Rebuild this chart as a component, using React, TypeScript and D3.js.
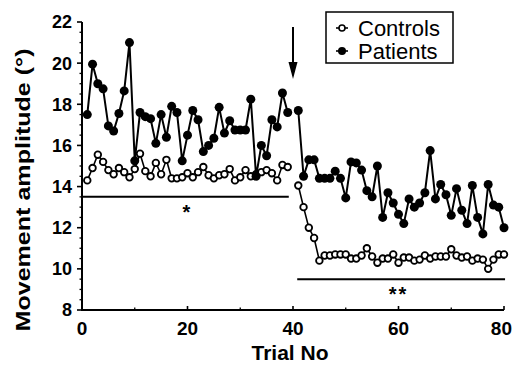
import React from "react";
import * as d3 from "d3";

const trials = [
  1, 2, 3, 4, 5, 6, 7, 8, 9, 10, 11, 12, 13, 14, 15, 16, 17, 18, 19, 20,
  21, 22, 23, 24, 25, 26, 27, 28, 29, 30, 31, 32, 33, 34, 35, 36, 37, 38, 39, 40,
  41, 42, 43, 44, 45, 46, 47, 48, 49, 50, 51, 52, 53, 54, 55, 56, 57, 58, 59, 60,
  61, 62, 63, 64, 65, 66, 67, 68, 69, 70, 71, 72, 73, 74, 75, 76, 77, 78, 79, 80,
];

const patients: (number | null)[] = [
  17.5, 19.95, 19.0, 18.75, 16.95, 16.7, 17.55, 18.65, 21.0, 15.25,
  17.6, 17.4, 17.3, 16.1, 17.5, 16.4, 17.9, 17.6, 15.25, 16.5,
  17.7, 17.25, 15.7, 16.0, 16.35, 17.85, 16.6, 17.2, 16.75, 16.75,
  16.75, 18.25, 14.5, 16.0, 15.5, 17.25, 16.9, 18.55, 17.6, null,
  17.7, 14.5, 15.3, 15.3, 14.4, 14.4, 14.4, 14.75, 14.4, 13.45,
  15.2, 15.15, 14.8, 13.8, 13.5, 15.0, 12.5, 13.7, 13.2, 12.65,
  12.2, 13.4, 13.0, 13.2, 13.7, 15.75, 13.4, 14.1, 13.6, 12.6,
  13.9, 12.85, 12.2, 14.05, 12.5, 11.7, 14.1, 13.1, 13.0, 12.0,
];

const controls: (number | null)[] = [
  14.3, 14.9, 15.55, 15.2, 14.8, 14.6, 14.9, 14.7, 14.45, 14.85,
  15.6, 14.75, 14.5, 15.15, 14.6, 15.3, 14.4, 14.4, 14.45, 14.65,
  14.45, 14.7, 14.95, 14.55, 14.4, 14.55, 14.6, 14.85, 14.3, 14.45,
  14.8, 14.5, 14.6, 14.7, 14.8, 14.65, 14.3, 15.05, 14.95, null,
  14.05, 13.0, 12.0, 11.5, 10.4, 10.65, 10.65, 10.7, 10.7, 10.7,
  10.5, 10.5, 10.65, 11.0, 10.6, 10.3, 10.5, 10.5, 10.7, 10.3,
  10.55, 10.55, 10.4, 10.45, 10.65, 10.5, 10.6, 10.6, 10.6, 10.95,
  10.65, 10.55, 10.6, 10.4, 10.5, 10.45, 10.0, 10.45, 10.7, 10.7,
];

const xTickLabels = [0, 20, 40, 60, 80];
const xMinorTicks = [10, 30, 50, 70];
const yTickLabels = [8, 10, 12, 14, 16, 18, 20, 22];
const legendItems = ["Controls", "Patients"];
const sigLines = [
  { from: 0, to: 39.2, level: 13.5, label: "*", at: 20 },
  { from: 40.8, to: 80.2, level: 9.5, label: "**", at: 60 },
];
const arrowTrial = 40;

const FONT = "'Liberation Sans', Arial, Helvetica, sans-serif";

export default function App() {
  const x = d3.scaleLinear().domain([0, 80]).range([82, 504]);
  const y = d3.scaleLinear().domain([8, 22]).range([310, 22]);

  const mk = (vals: (number | null)[]) =>
    trials.map((t, i) => ({ t, v: vals[i] }));
  const pData = mk(patients);
  const cData = mk(controls);

  const line = d3
    .line<{ t: number; v: number | null }>()
    .defined((d) => d.v !== null)
    .x((d) => x(d.t))
    .y((d) => y(d.v as number));

  const yMinor = d3.range(8, 22.01, 0.5).filter((v) => v % 2 !== 0);

  return (
    <svg
      width={513}
      height={367}
      style={{ position: "fixed", left: 0, top: 0, background: "#fff" }}
      fontFamily={FONT}
    >
      <rect x={0} y={0} width={513} height={367} fill="#fff" />
      {/* axes */}
      <line x1={x(0)} x2={x(0)} y1={y(22)} y2={y(8)} stroke="#000" strokeWidth={2} />
      <line x1={x(0) - 1} x2={x(80)} y1={y(8)} y2={y(8)} stroke="#000" strokeWidth={2} />
      {yTickLabels.map((v) => (
        <g key={"yt" + v}>
          <line x1={x(0) - 5} x2={x(0)} y1={y(v)} y2={y(v)} stroke="#000" strokeWidth={1.6} />
          <text
            x={72}
            y={y(v)}
            dy="0.36em"
            textAnchor="end"
            fontSize={18}
            fontWeight="bold"
          >
            {v}
          </text>
        </g>
      ))}
      {yMinor.map((v) => (
        <line key={"ym" + v} x1={x(0) - 2.5} x2={x(0)} y1={y(v)} y2={y(v)} stroke="#000" strokeWidth={1.3} />
      ))}
      {xTickLabels.map((v, i) => {
        const last = i === xTickLabels.length - 1;
        return (
          <g key={"xt" + v}>
            <line x1={x(v)} x2={x(v)} y1={y(8)} y2={y(8) - 4} stroke="#000" strokeWidth={1.6} />
            <text
              x={last ? 512 : x(v)}
              y={335}
              textAnchor={last ? "end" : "middle"}
              fontSize={19}
              fontWeight="bold"
            >
              {v}
            </text>
          </g>
        );
      })}
      {xMinorTicks.map((v) => (
        <line key={"xm" + v} x1={x(v)} x2={x(v)} y1={y(8)} y2={y(8) - 2.5} stroke="#000" strokeWidth={1.3} />
      ))}
      <text x={290} y={360} textAnchor="middle" fontSize={21} fontWeight="bold">
        Trial No
      </text>
      <text
        transform={`translate(29.5,190) rotate(-90)`}
        textAnchor="middle"
        fontSize={21}
        fontWeight="bold"
        textLength={283}
        lengthAdjust="spacingAndGlyphs"
      >
        Movement amplitude (°)
      </text>

      {/* significance lines */}
      {sigLines.map((s, i) => (
        <g key={"sig" + i}>
          <line x1={x(s.from)} x2={x(s.to)} y1={y(s.level)} y2={y(s.level)} stroke="#000" strokeWidth={2} />
          <text
            x={x(s.at)}
            y={y(s.level) + 22}
            textAnchor="middle"
            fontSize={20}
            fontWeight="bold"
            letterSpacing={2}
          >
            {s.label}
          </text>
        </g>
      ))}

      {/* arrow */}
      <line x1={x(arrowTrial)} x2={x(arrowTrial)} y1={27} y2={66} stroke="#000" strokeWidth={2} />
      <path
        d={`M${x(arrowTrial) - 4.5},62 L${x(arrowTrial) + 4.5},62 L${x(arrowTrial)},79 Z`}
        fill="#000"
      />

      {/* controls */}
      <path d={line(cData) || ""} fill="none" stroke="#000" strokeWidth={1.6} />
      {cData
        .filter((d) => d.v !== null)
        .map((d) => (
          <circle
            key={"c" + d.t}
            cx={x(d.t)}
            cy={y(d.v as number)}
            r={3.3}
            fill="#fff"
            stroke="#000"
            strokeWidth={1.8}
          />
        ))}

      {/* patients */}
      <path d={line(pData) || ""} fill="none" stroke="#000" strokeWidth={2} />
      {pData
        .filter((d) => d.v !== null)
        .map((d) => (
          <circle key={"p" + d.t} cx={x(d.t)} cy={y(d.v as number)} r={4.5} fill="#000" />
        ))}

      {/* legend */}
      <rect x={326} y={12} width={127} height={51} fill="#fff" stroke="#000" strokeWidth={1.5} />
      {legendItems.map((name, i) => {
        const cy = 28 + i * 23;
        return (
          <g key={name}>
            <line x1={336} x2={348} y1={cy} y2={cy} stroke="#000" strokeWidth={1.6} />
            {i === 0 ? (
              <circle cx={342} cy={cy} r={3} fill="#fff" stroke="#000" strokeWidth={1.6} />
            ) : (
              <circle cx={342} cy={cy} r={4} fill="#000" />
            )}
            <text x={358} y={cy + 8} fontSize={22}>
              {name}
            </text>
          </g>
        );
      })}
    </svg>
  );
}
